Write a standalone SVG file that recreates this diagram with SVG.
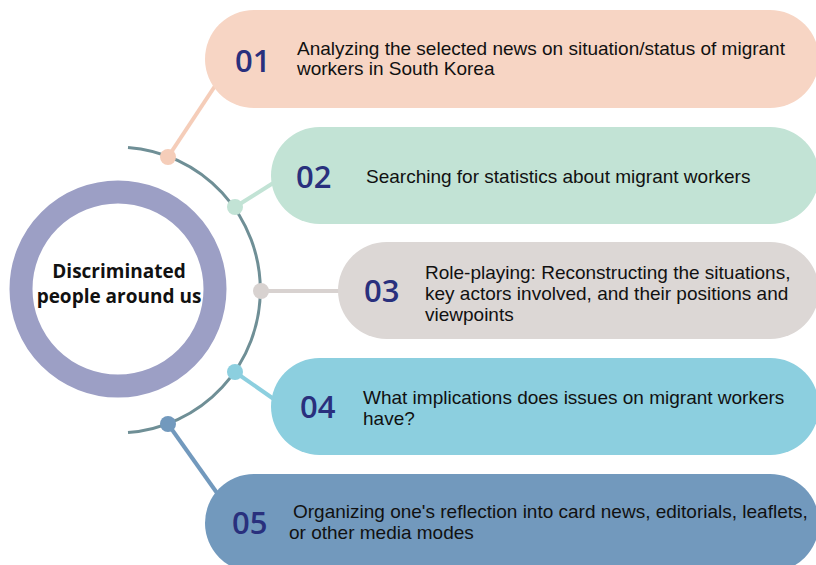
<svg xmlns="http://www.w3.org/2000/svg" width="816" height="565" viewBox="0 0 816 565">
<style>
.num{font-family:"Open Sans","Liberation Sans",sans-serif;font-size:31px;font-weight:600;fill:#29307d}
.txt{font-family:"Liberation Sans","DejaVu Sans",sans-serif;font-size:19px;fill:#111}
.ctr{font-family:"Open Sans","Liberation Sans",sans-serif;font-size:19px;font-weight:700;fill:#111;text-anchor:middle}
.link{stroke-width:4;fill:none}
</style>
<rect width="816" height="565" fill="#fff"/>
<g id="center">
<circle cx="118" cy="289" r="97" fill="none" stroke="#9c9fc5" stroke-width="23"/>
<text class="ctr" x="119" y="278">Discriminated</text>
<text class="ctr" x="119" y="303">people around us</text>
</g>
<g id="connectors">
<path d="M128 147.4 A143 143 0 0 1 128 432.6" fill="none" stroke="#6f8f96" stroke-width="3"/>
<line class="link" x1="168" y1="157" x2="215" y2="86" stroke="#f5cdb9"/>
<line class="link" x1="235" y1="207" x2="278" y2="180" stroke="#c2e3d5"/>
<line class="link" x1="261" y1="291" x2="340" y2="291" stroke="#d8d2d0"/>
<line class="link" x1="235" y1="372" x2="278" y2="402" stroke="#8ccfdf"/>
<line class="link" x1="168" y1="424" x2="217" y2="493" stroke="#7299bd"/>
<circle cx="168" cy="157" r="8" fill="#f5cdb9"/>
<circle cx="235" cy="207" r="8" fill="#c2e3d5"/>
<circle cx="261" cy="291" r="8" fill="#d8d2d0"/>
<circle cx="235" cy="372" r="8" fill="#8ccfdf"/>
<circle cx="168" cy="424" r="8" fill="#7299bd"/>
</g>
<g id="step01">
<rect x="205" y="10" width="614" height="98" rx="49" fill="#f7d5c4"/>
<text class="num" x="235" y="72">01</text>
<text class="txt" x="297" y="55">Analyzing the selected news on situation/status of migrant</text>
<text class="txt" x="297" y="75">workers in South Korea</text>
</g>
<g id="step02">
<rect x="271" y="127" width="548" height="97" rx="48.5" fill="#c2e3d5"/>
<text class="num" x="296" y="188">02</text>
<text class="txt" x="366" y="183">Searching for statistics about migrant workers</text>
</g>
<g id="step03">
<rect x="338" y="242" width="481" height="97" rx="48.5" fill="#dcd7d5"/>
<text class="num" x="364" y="302">03</text>
<text class="txt" x="425" y="279">Role-playing: Reconstructing the situations,</text>
<text class="txt" x="425" y="300">key actors involved, and their positions and</text>
<text class="txt" x="425" y="321">viewpoints</text>
</g>
<g id="step04">
<rect x="271" y="358" width="548" height="97" rx="48.5" fill="#8ccfdf"/>
<text class="num" x="300" y="418">04</text>
<text class="txt" x="363" y="404">What implications does issues on migrant workers</text>
<text class="txt" x="363" y="425">have?</text>
</g>
<g id="step05">
<rect x="205" y="474" width="614" height="98" rx="49" fill="#7299bd"/>
<text class="num" x="232" y="534">05</text>
<text class="txt" x="293" y="518"> Organizing one's reflection into card news, editorials, leaflets,</text>
<text class="txt" x="289" y="539">or other media modes</text>
</g>
</svg>
